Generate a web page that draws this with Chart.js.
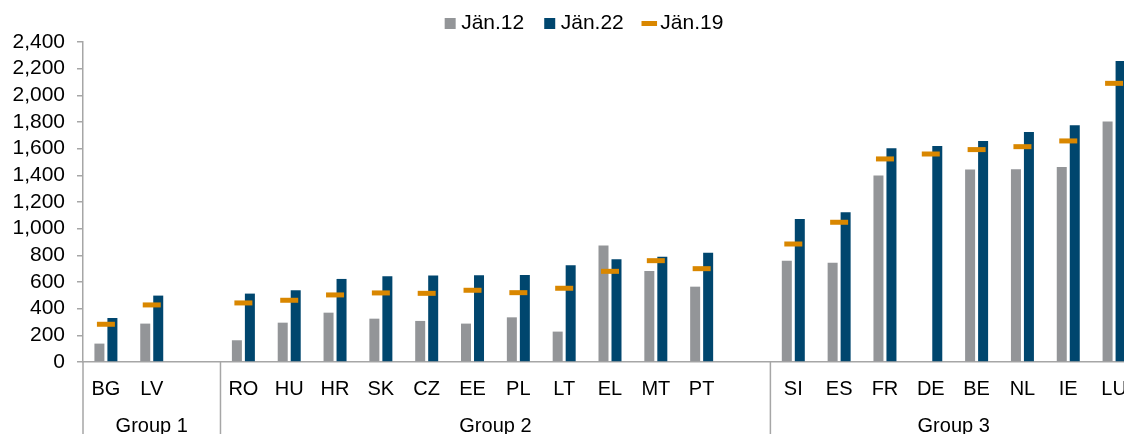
<!DOCTYPE html>
<html>
<head>
<meta charset="utf-8">
<script src="https://cdn.jsdelivr.net/npm/chart.js@4.4.1/dist/chart.umd.min.js"></script>
<style>
  html, body { margin: 0; padding: 0; background: #fff; overflow: hidden; }
  #wrap { position: relative; width: 1163px; height: 450px; }
</style>
</head>
<body>
<div id="wrap"><canvas id="myChart"></canvas></div>
<script>
// data (empty strings are spacer slots between groups)
const countries = ['BG', 'LV', '', 'RO', 'HU', 'HR', 'SK', 'CZ', 'EE', 'PL', 'LT', 'EL', 'MT', 'PT', '', 'SI', 'ES', 'FR', 'DE', 'BE', 'NL', 'IE', 'LU'];
const jan12 = [138, 288, null, 163, 295, 370, 325, 308, 288, 335, 228, 873, 683, 565, null, 760, 745, 1398, null, 1443, 1445, 1463, 1803];
const jan22 = [330, 498, null, 513, 538, 623, 643, 648, 650, 653, 725, 770, 790, 820, null, 1073, 1123, 1603, 1620, 1658, 1725, 1775, 2258];
const jan19 = [283, 428, null, 443, 463, 503, 518, 515, 538, 520, 553, 680, 760, 700, null, 885, 1048, 1523, 1560, 1593, 1615, 1658, 2090];

const groupNames = ['Group 1', 'Group 2', 'Group 3'];
const groupFirst = [0, 3, 15];

const gray = '#939598';
const blue = '#00466E';
const orange = '#D98700';
const axisGray = '#A6A6A6';
const textColor = '#000000';
const legendStyles = ['rect', 'rect', 'line'];

Chart.defaults.font.family = '"Liberation Sans", Arial, sans-serif';

// group separators and group names under the category labels
const groupLabels = {
    id: 'groupLabels',
    afterDraw(chart) {
        const ctx = chart.ctx;
        const xs = chart.scales.x;
        const bottom = chart.chartArea.bottom;
        const half = (xs.getPixelForValue(1) - xs.getPixelForValue(0)) / 2;
        ctx.save();
        ctx.strokeStyle = axisGray;
        ctx.lineWidth = 1.5;
        ctx.fillStyle = textColor;
        ctx.font = '20px "Liberation Sans", Arial, sans-serif';
        ctx.textAlign = 'center';
        ctx.textBaseline = 'alphabetic';
        groupNames.forEach((name, i) => {
            const last = i + 1 < groupFirst.length ? groupFirst[i + 1] - 1 : countries.length - 1;
            const start = xs.getPixelForValue(groupFirst[i]) - half;
            const end = xs.getPixelForValue(last) + half;
            ctx.beginPath();
            ctx.moveTo(start, bottom);
            ctx.lineTo(start, chart.height);
            ctx.stroke();
            ctx.fillText(name, (start + end) / 2, bottom + 70);
        });
        ctx.restore();
    }
};

const config = {
    type: 'bar',
    data: {
        labels: countries,
        datasets: [
            {
                label: 'Jän.12',
                data: jan12,
                backgroundColor: gray,
                categoryPercentage: 0.567,
                barPercentage: 0.77,
                order: 2
            },
            {
                label: 'Jän.22',
                data: jan22,
                backgroundColor: blue,
                categoryPercentage: 0.567,
                barPercentage: 0.77,
                order: 2
            },
            {
                type: 'line',
                label: 'Jän.19',
                data: jan19,
                showLine: false,
                borderColor: orange,
                backgroundColor: orange,
                borderWidth: 5,
                pointStyle: 'line',
                pointRadius: 9,
                pointBorderWidth: 5,
                pointBorderColor: orange,
                order: 1
            }
        ]
    },
    options: {
        responsive: true,
        maintainAspectRatio: false,
        animation: false,
        events: [],
        layout: {
            padding: { top: -12, left: 10, right: 0, bottom: 34 }
        },
        plugins: {
            tooltip: { enabled: false },
            legend: {
                position: 'top',
                maxHeight: 54,
                labels: {
                    usePointStyle: true,
                    boxWidth: 1,
                    boxHeight: 11,
                    padding: 25,
                    color: textColor,
                    font: { size: 21 },
                    sort: (a, b) => a.datasetIndex - b.datasetIndex,
                    generateLabels: chart => Chart.defaults.plugins.legend.labels.generateLabels(chart).map(item => {
                        item.pointStyle = legendStyles[item.datasetIndex];
                        return item;
                    })
                }
            }
        },
        scales: {
            x: {
                grid: { display: false, drawTicks: false },
                border: { display: true, color: axisGray, width: 1.5 },
                ticks: {
                    padding: 15,
                    color: textColor,
                    font: { size: 20 },
                    autoSkip: false,
                    maxRotation: 0
                }
            },
            y: {
                min: 0,
                max: 2400,
                afterFit: scale => { scale.width = 73; },
                ticks: {
                    stepSize: 200,
                    autoSkip: false,
                    padding: 12,
                    color: textColor,
                    font: { size: 21 },
                    callback: v => v.toLocaleString('en-US')
                },
                grid: {
                    drawOnChartArea: false,
                    drawTicks: true,
                    tickLength: 6,
                    color: axisGray,
                    lineWidth: 1.5
                },
                border: { color: axisGray, width: 1.5 }
            },
            // empty right-hand axis: keeps the plot edge where the reference crops it
            yRight: {
                position: 'right',
                display: true,
                afterFit: scale => { scale.width = 26; },
                grid: { display: false },
                border: { display: false },
                ticks: { display: false }
            }
        }
    },
    plugins: [groupLabels]
};

new Chart(document.getElementById('myChart'), config);
</script>
</body>
</html>
